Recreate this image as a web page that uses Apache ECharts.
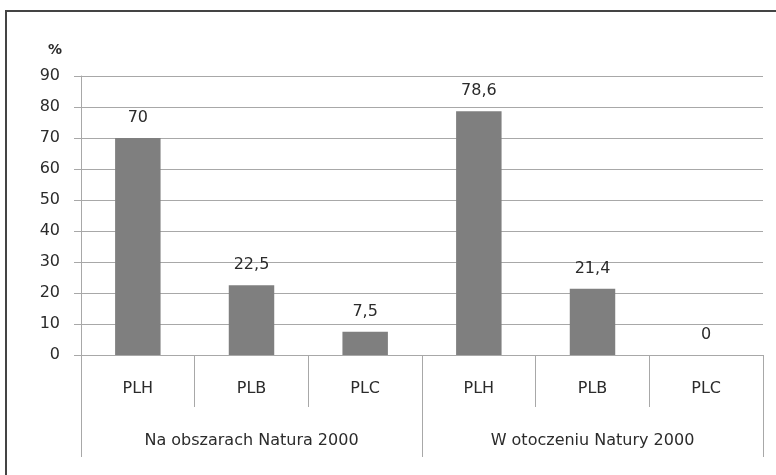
<!DOCTYPE html>
<html>
<head>
<meta charset="utf-8">
<script src="https://cdn.jsdelivr.net/npm/echarts@6/dist/echarts.min.js"></script>
<style>
  html, body { margin: 0; padding: 0; background: #fff; }
  #chart { width: 776px; height: 475px; }
</style>
</head>
<body>
<div id="chart"></div>
<script>
// dane z wykresu
const categories = ['PLH', 'PLB', 'PLC', 'PLH', 'PLB', 'PLC']
const groups = ['Na obszarach Natura 2000', 'W otoczeniu Natury 2000']
const values = [70, 22.5, 7.5, 78.6, 21.4, 0]
const yTicks = { min: 0, max: 90, step: 10 }

const font = 'DejaVu Sans'
const textColor = '#2b2b2b'
const lineColor = '#a8a8a8'

const chart = echarts.init(document.getElementById('chart'))

chart.setOption({
  animation: false,
  title: {
    text: '%',
    left: 43,
    top: 38,
    textStyle: { fontFamily: font, fontSize: 14, fontWeight: 'bold', color: textColor }
  },
  grid: { left: 81, right: 13, top: 76, bottom: 120 },
  graphic: [
    { // ramka - tylko góra i lewo
      type: 'polyline',
      shape: { points: [[6, 475], [6, 11], [776, 11]] },
      style: { fill: 'none', stroke: '#444', lineWidth: 2 },
      silent: true
    }
  ],
  xAxis: [
    { // kategorie PLH / PLB / PLC
      type: 'category',
      data: categories,
      position: 'bottom',
      axisLine: { show: true, lineStyle: { color: lineColor } },
      axisTick: { show: true, interval: 0, length: 52, lineStyle: { color: lineColor } },
      axisLabel: { interval: 0, margin: 26, fontFamily: font, fontSize: 16, color: textColor }
    },
    { // grupy
      type: 'category',
      data: groups,
      position: 'bottom',
      axisLine: { show: false },
      axisTick: { show: true, interval: 0, length: 102, lineStyle: { color: lineColor } },
      axisLabel: { interval: 0, margin: 78, fontFamily: font, fontSize: 16, color: textColor }
    }
  ],
  yAxis: {
    type: 'value',
    min: yTicks.min,
    max: yTicks.max,
    interval: yTicks.step,
    axisLine: { show: true, lineStyle: { color: lineColor } },
    axisTick: { show: true, length: 7, lineStyle: { color: lineColor } },
    axisLabel: { margin: 21, fontFamily: font, fontSize: 16, color: textColor },
    splitLine: { lineStyle: { color: lineColor } }
  },
  series: [{
    type: 'bar',
    xAxisIndex: 0,
    data: values,
    barWidth: '40%',
    itemStyle: { color: '#7f7f7f' },
    label: {
      show: true,
      position: 'top',
      distance: 12,
      fontFamily: font,
      fontSize: 16,
      color: textColor,
      formatter: p => String(p.value).replace('.', ',') // przecinek dziesiętny
    }
  }]
})
</script>
</body>
</html>
